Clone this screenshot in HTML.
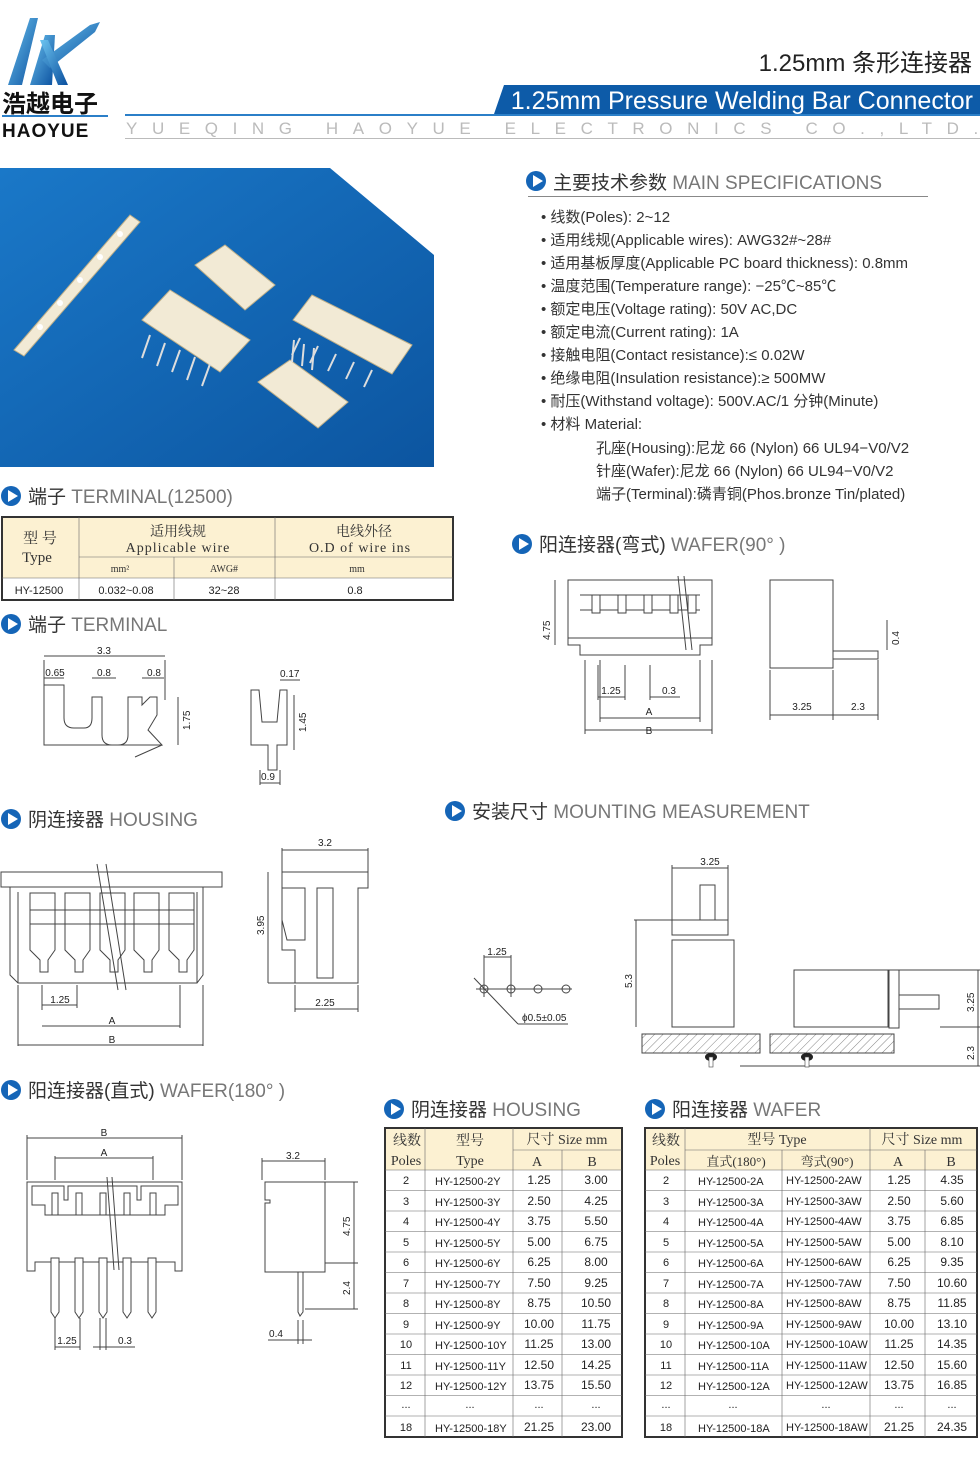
<!DOCTYPE html>
<html><head><meta charset="utf-8"><style>
html,body{margin:0;padding:0;background:#fff}
svg{display:block}
text{font-family:"Liberation Sans","Noto Sans CJK SC",sans-serif;fill:#333}
.s{font-family:"Liberation Serif","Noto Serif CJK SC",serif}
.d{font-size:10px;fill:#222}
.h{font-size:19px;fill:#333}
.hl{fill:#777}
.sp{font-size:15px;fill:#333}
.ln{stroke:#444;stroke-width:1;fill:none}
.lw{stroke:#444;stroke-width:1;fill:#fff}
.th{stroke:#666;stroke-width:.6;fill:none}
.tc{font-size:11px;fill:#222}
</style></head><body>
<svg width="980" height="1470" viewBox="0 0 980 1470" xmlns="http://www.w3.org/2000/svg">
<defs>
<linearGradient id="bg" x1="0" y1="0" x2="1" y2="1"><stop offset="0" stop-color="#1a78c8"/><stop offset="1" stop-color="#0c55a0"/></linearGradient>
<linearGradient id="lg" x1="0" y1="0" x2="1" y2="1"><stop offset="0" stop-color="#6cc4f0"/><stop offset="1" stop-color="#0a4f9e"/></linearGradient>
<pattern id="hatch" width="6" height="6" patternUnits="userSpaceOnUse" patternTransform="rotate(45)"><line x1="0" y1="0" x2="0" y2="6" stroke="#666" stroke-width="0.8"/></pattern>
<g id="ic"><circle cx="0" cy="0" r="10" fill="#1565b7"/><polygon points="-3,-6 7,0 -3,6" fill="#fff"/></g>
</defs>

<!-- logo -->
<polygon points="8,85 30,18 38,18 22,85" fill="url(#lg)"/>
<polygon points="30,85 45,35 55,35 52,85" fill="url(#lg)"/>
<polygon points="42,60 90,25 100,22 95,32 50,68" fill="url(#lg)"/>
<polygon points="40,40 48,40 68,85 58,85" fill="url(#lg)"/>
<text x="2" y="112" style="font-size:24px;font-weight:bold;fill:#111;font-family:'Noto Sans CJK SC',sans-serif">浩越电子</text>
<rect x="2" y="115" width="106" height="2" fill="#2b7fc8"/>
<text x="2" y="137" style="font-size:19px;font-weight:bold;fill:#111;letter-spacing:1px">HAOYUE</text>

<!-- header -->
<text x="972" y="71" text-anchor="end" style="font-size:24px;fill:#222">1.25mm 条形连接器</text>
<polygon points="504,85 980,85 980,114 494,114" fill="#0d5ba8"/>
<text x="973" y="109" text-anchor="end" style="font-size:25px;fill:#fff">1.25mm Pressure Welding Bar Connector</text>
<rect x="125" y="114" width="855" height="2" fill="#2b7fc8"/>
<text x="126" y="134" style="font-size:17px;fill:#bbb;letter-spacing:14.6px">YUEQING HAOYUE ELECTRONICS CO.,LTD.</text>
<rect x="125" y="138" width="855" height="1" fill="#bbb"/>

<!-- photo -->
<polygon points="0,168 330,168 434,255 434,467 0,467" fill="url(#bg)"/>
<g fill="#f2ead5" stroke="#bfb08a" stroke-width="1">
<polygon points="14,350 130,215 140,222 24,356"/>
<polygon points="195,265 225,245 275,285 245,310"/>
<polygon points="142,320 170,290 250,340 220,372"/>
<polygon points="293,320 312,295 412,345 392,374"/>
<polygon points="258,382 290,360 348,402 318,428"/>
</g>
<g stroke="#ddd" stroke-width="2">
<line x1="150" y1="335" x2="142" y2="358"/><line x1="165" y1="343" x2="157" y2="366"/><line x1="180" y1="350" x2="172" y2="372"/><line x1="195" y1="357" x2="187" y2="380"/><line x1="210" y1="364" x2="202" y2="386"/>
<line x1="300" y1="338" x2="292" y2="355"/><line x1="318" y1="346" x2="310" y2="363"/><line x1="336" y1="354" x2="328" y2="371"/><line x1="354" y1="362" x2="346" y2="379"/><line x1="372" y1="370" x2="364" y2="387"/>
<line x1="292" y1="362" x2="294" y2="340"/><line x1="302" y1="366" x2="304" y2="344"/><line x1="312" y1="370" x2="314" y2="348"/>
</g>
<g fill="#fff"><circle cx="40" cy="327" r="3"/><circle cx="60" cy="303" r="3"/><circle cx="80" cy="280" r="3"/><circle cx="100" cy="257" r="3"/><circle cx="120" cy="234" r="3"/></g>

<!-- specs -->
<use href="#ic" x="536" y="181"/>
<text x="553" y="189" class="h">主要技术参数 <tspan class="hl">MAIN SPECIFICATIONS</tspan></text>
<rect x="528" y="196" width="400" height="1" fill="#888"/>
<g class="sp">
<text x="541" y="222" class="sp">• 线数(Poles): 2~12</text>
<text x="541" y="245" class="sp">• 适用线规(Applicable wires): AWG32#~28#</text>
<text x="541" y="268" class="sp">• 适用基板厚度(Applicable PC board thickness): 0.8mm</text>
<text x="541" y="291" class="sp">• 温度范围(Temperature range): −25℃~85℃</text>
<text x="541" y="314" class="sp">• 额定电压(Voltage rating): 50V AC,DC</text>
<text x="541" y="337" class="sp">• 额定电流(Current rating): 1A</text>
<text x="541" y="360" class="sp">• 接触电阻(Contact resistance):≤ 0.02W</text>
<text x="541" y="383" class="sp">• 绝缘电阻(Insulation resistance):≥ 500MW</text>
<text x="541" y="406" class="sp">• 耐压(Withstand voltage): 500V.AC/1 分钟(Minute)</text>
<text x="541" y="429" class="sp">• 材料 Material:</text>
<text x="596" y="453" class="sp">孔座(Housing):尼龙 66 (Nylon) 66 UL94−V0/V2</text>
<text x="596" y="476" class="sp">针座(Wafer):尼龙 66 (Nylon) 66 UL94−V0/V2</text>
<text x="596" y="499" class="sp">端子(Terminal):磷青铜(Phos.bronze Tin/plated)</text>
</g>

<!-- terminal table -->
<use href="#ic" x="11" y="496"/>
<text x="28" y="503" class="h">端子 <tspan class="hl">TERMINAL(12500)</tspan></text>
<rect x="2" y="517" width="77" height="61" fill="#fcf1d2"/>
<rect x="79" y="517" width="374" height="61" fill="#fcf1d2"/>
<rect x="2" y="517" width="451" height="83" fill="none" stroke="#333" stroke-width="2"/>
<g class="th">
<line x1="79" y1="517" x2="79" y2="600"/><line x1="275" y1="517" x2="275" y2="600"/><line x1="174" y1="557" x2="174" y2="600"/>
<line x1="79" y1="557" x2="453" y2="557"/><line x1="2" y1="578" x2="453" y2="578"/>
</g>
<text x="40" y="543" text-anchor="middle" class="s" style="font-size:15px">型 号</text>
<text x="37" y="562" text-anchor="middle" class="s" style="font-size:15px">Type</text>
<text x="178" y="536" text-anchor="middle" class="s" style="font-size:14px">适用线规</text>
<text x="178" y="552" text-anchor="middle" class="s" style="font-size:14px;letter-spacing:1px">Applicable wire</text>
<text x="364" y="536" text-anchor="middle" class="s" style="font-size:14px">电线外径</text>
<text x="360" y="552" text-anchor="middle" class="s" style="font-size:14px;letter-spacing:1px">O.D of wire ins</text>
<text x="120" y="572" text-anchor="middle" class="s" style="font-size:10px">mm²</text>
<text x="224" y="572" text-anchor="middle" class="s" style="font-size:10px">AWG#</text>
<text x="357" y="572" text-anchor="middle" class="s" style="font-size:10px">mm</text>
<text x="39" y="594" text-anchor="middle" class="tc">HY-12500</text>
<text x="126" y="594" text-anchor="middle" class="tc">0.032~0.08</text>
<text x="224" y="594" text-anchor="middle" class="tc">32~28</text>
<text x="355" y="594" text-anchor="middle" class="tc">0.8</text>

<!-- terminal drawing -->
<use href="#ic" x="11" y="624"/>
<text x="28" y="631" class="h">端子 <tspan class="hl">TERMINAL</tspan></text>
<g class="ln">
<path d="M44,685 H64 V718 Q64,728 74,728 H84 Q92,728 92,718 V697 H102 V735 Q102,745 112,745 H118 Q128,745 128,735 V697 H142 V705 L150,697 H157 V715 L148,730 L162,745 H44 Z" fill="#fff"/>
<line x1="135" y1="757" x2="162" y2="745"/>
<line x1="44" y1="660" x2="44" y2="685"/><line x1="165" y1="660" x2="165" y2="700"/>
<line x1="44" y1="656" x2="165" y2="656"/>
<line x1="44" y1="678" x2="64" y2="678"/><line x1="92" y1="678" x2="116" y2="678"/><line x1="142" y1="678" x2="164" y2="678"/>
<line x1="178" y1="697" x2="178" y2="745"/>
<path d="M251,690 V745 H268 V770 H277 V745 H287 V690 L280,690 L277,722 H262 L259,690 Z" fill="#fff"/>
<line x1="260" y1="783" x2="280" y2="783"/><line x1="260" y1="770" x2="260" y2="785"/><line x1="280" y1="770" x2="280" y2="785"/>
<line x1="280" y1="680" x2="300" y2="680"/><line x1="294" y1="695" x2="294" y2="750"/>
</g>
<text x="104" y="654" text-anchor="middle" class="d">3.3</text>
<text x="55" y="676" text-anchor="middle" class="d">0.65</text>
<text x="104" y="676" text-anchor="middle" class="d">0.8</text>
<text x="154" y="676" text-anchor="middle" class="d">0.8</text>
<text transform="translate(190,730) rotate(-90)" class="d">1.75</text>
<text x="280" y="677" class="d">0.17</text>
<text transform="translate(306,732) rotate(-90)" class="d">1.45</text>
<text x="268" y="780" text-anchor="middle" class="d">0.9</text>

<!-- wafer 90 -->
<use href="#ic" x="522" y="544"/>
<text x="539" y="551" class="h">阳连接器(弯式) <tspan class="hl">WAFER(90°  )</tspan></text>
<g class="ln">
<path d="M568,580 H712 V645 H700 V655 H580 V645 H568 Z" fill="#fff"/>
<line x1="580" y1="595" x2="700" y2="595"/>
<line x1="580" y1="610" x2="700" y2="610"/>
<rect x="592" y="595" width="8" height="18" fill="#fff"/><rect x="618" y="595" width="8" height="18" fill="#fff"/><rect x="644" y="595" width="8" height="18" fill="#fff"/><rect x="670" y="595" width="8" height="18" fill="#fff"/><rect x="688" y="595" width="8" height="18" fill="#fff"/>
<line x1="568" y1="638" x2="712" y2="638"/>
<line x1="555" y1="580" x2="555" y2="645"/>
<line x1="598" y1="665" x2="598" y2="700"/><line x1="625" y1="665" x2="625" y2="700"/><line x1="650" y1="665" x2="650" y2="700"/>
<line x1="598" y1="697" x2="625" y2="697"/><line x1="650" y1="697" x2="680" y2="697"/>
<line x1="600" y1="718" x2="700" y2="718"/><line x1="585" y1="730" x2="712" y2="730"/>
<line x1="600" y1="660" x2="600" y2="722"/><line x1="700" y1="660" x2="700" y2="722"/><line x1="585" y1="660" x2="585" y2="734"/><line x1="712" y1="660" x2="712" y2="734"/>
<line x1="678" y1="576" x2="686" y2="650"/><line x1="684" y1="576" x2="692" y2="650"/>
<path d="M770,580 H833 V668 H770 Z" fill="#fff"/>
<rect x="833" y="651" width="45" height="8" fill="#fff"/>
<line x1="770" y1="715" x2="833" y2="715"/><line x1="833" y1="715" x2="878" y2="715"/>
<line x1="770" y1="670" x2="770" y2="720"/><line x1="833" y1="670" x2="833" y2="720"/><line x1="878" y1="660" x2="878" y2="720"/>
<line x1="887" y1="620" x2="887" y2="650"/>
</g>
<text transform="translate(550,640) rotate(-90)" class="d">4.75</text>
<text x="611" y="694" text-anchor="middle" class="d">1.25</text>
<text x="669" y="694" text-anchor="middle" class="d">0.3</text>
<text x="649" y="715" text-anchor="middle" class="d">A</text>
<text x="649" y="734" text-anchor="middle" class="d">B</text>
<text x="802" y="710" text-anchor="middle" class="d">3.25</text>
<text x="858" y="710" text-anchor="middle" class="d">2.3</text>
<text transform="translate(899,645) rotate(-90)" class="d">0.4</text>

<!-- housing drawing -->
<use href="#ic" x="11" y="819"/>
<text x="28" y="826" class="h">阴连接器 <tspan class="hl">HOUSING</tspan></text>
<g class="ln">
<rect x="1" y="872" width="221" height="15" fill="#fff"/>
<path d="M10,887 H203 V975 L197,983 V983 H18 V983 L10,975 Z" fill="#fff"/>
<line x1="18" y1="892" x2="18" y2="983"/><line x1="197" y1="892" x2="197" y2="983"/>
<g fill="#fff">
<path d="M30,893 H55 V950 L48,960 V972 H40 V960 L30,950 Z"/>
<path d="M65,893 H90 V950 L83,960 V972 H75 V960 L65,950 Z"/>
<path d="M100,893 H125 V950 L118,960 V972 H110 V960 L100,950 Z"/>
<path d="M134,893 H159 V950 L152,960 V972 H144 V960 L134,950 Z"/>
<path d="M169,893 H194 V950 L187,960 V972 H179 V960 L169,950 Z"/>
</g>
<line x1="30" y1="910" x2="194" y2="910"/><line x1="30" y1="924" x2="194" y2="924"/>
<line x1="97" y1="864" x2="118" y2="990"/><line x1="106" y1="864" x2="126" y2="990"/>
<line x1="18" y1="985" x2="18" y2="1046"/><line x1="203" y1="985" x2="203" y2="1046"/>
<line x1="42" y1="985" x2="42" y2="1010"/><line x1="77" y1="985" x2="77" y2="1008"/><line x1="180" y1="985" x2="180" y2="1028"/>
<line x1="42" y1="1005" x2="77" y2="1005"/><line x1="42" y1="1026" x2="180" y2="1026"/><line x1="18" y1="1045" x2="203" y2="1045"/>
<path d="M282,872 H368 V888 H358 V983 H295 V950 L282,950 Z" fill="#fff"/>
<path d="M282,888 H305 V940 L287,940 L282,920 Z" fill="#fff"/>
<rect x="317" y="888" width="16" height="90" fill="#fff"/>
<line x1="282" y1="850" x2="368" y2="850"/><line x1="282" y1="848" x2="282" y2="872"/><line x1="368" y1="848" x2="368" y2="872"/>
<line x1="268" y1="872" x2="268" y2="983"/><line x1="268" y1="983" x2="295" y2="983"/>
<line x1="295" y1="1009" x2="358" y2="1009"/><line x1="295" y1="985" x2="295" y2="1012"/><line x1="358" y1="985" x2="358" y2="1012"/>
</g>
<text x="60" y="1003" text-anchor="middle" class="d">1.25</text>
<text x="112" y="1024" text-anchor="middle" class="d">A</text>
<text x="112" y="1043" text-anchor="middle" class="d">B</text>
<text x="325" y="846" text-anchor="middle" class="d">3.2</text>
<text transform="translate(264,935) rotate(-90)" class="d">3.95</text>
<text x="325" y="1006" text-anchor="middle" class="d">2.25</text>

<!-- mounting -->
<use href="#ic" x="455" y="811"/>
<text x="472" y="818" class="h">安装尺寸 <tspan class="hl">MOUNTING MEASUREMENT</tspan></text>
<g class="ln">
<circle cx="484" cy="989" r="4"/><circle cx="511" cy="989" r="4"/><circle cx="538" cy="989" r="4"/><circle cx="566" cy="989" r="4"/>
<line x1="476" y1="989" x2="572" y2="989"/>
<line x1="484" y1="955" x2="484" y2="997"/><line x1="511" y1="955" x2="511" y2="997"/>
<line x1="484" y1="957" x2="511" y2="957"/>
<line x1="474" y1="978" x2="518" y2="1024"/><line x1="518" y1="1024" x2="568" y2="1024"/>
<rect x="672" y="940" width="62" height="87" fill="#fff"/>
<rect x="672" y="920" width="56" height="15" fill="#fff"/>
<rect x="700" y="885" width="15" height="35" fill="#fff"/>
<line x1="672" y1="868" x2="728" y2="868"/><line x1="672" y1="865" x2="672" y2="920"/><line x1="728" y1="865" x2="728" y2="920"/>
<line x1="634" y1="920" x2="672" y2="920"/><line x1="636" y1="920" x2="636" y2="1027"/>
<rect x="794" y="970" width="94" height="57" fill="#fff"/>
<rect x="889" y="970" width="10" height="58" fill="#fff"/>
<rect x="899" y="995" width="40" height="14" fill="#fff"/>
<line x1="899" y1="970" x2="980" y2="970"/><line x1="978" y1="970" x2="978" y2="1066"/>
<line x1="940" y1="1027" x2="980" y2="1027"/><line x1="740" y1="1066" x2="980" y2="1066"/>
</g>
<rect x="642" y="1034" width="118" height="19" fill="url(#hatch)" stroke="#444"/>
<rect x="770" y="1034" width="124" height="19" fill="url(#hatch)" stroke="#444"/>
<ellipse cx="711" cy="1057" rx="6" ry="4" fill="#222"/><rect x="709" y="1057" width="4" height="10" fill="#fff" stroke="#444" stroke-width=".6"/>
<ellipse cx="807" cy="1057" rx="6" ry="4" fill="#222"/><rect x="805" y="1057" width="4" height="10" fill="#fff" stroke="#444" stroke-width=".6"/>
<text x="497" y="955" text-anchor="middle" class="d">1.25</text>
<text x="522" y="1021" class="d">ϕ0.5±0.05</text>
<text x="710" y="865" text-anchor="middle" class="d">3.25</text>
<text transform="translate(632,988) rotate(-90)" class="d">5.3</text>
<text transform="translate(974,1012) rotate(-90)" class="d">3.25</text>
<text transform="translate(974,1060) rotate(-90)" class="d">2.3</text>

<!-- wafer 180 -->
<use href="#ic" x="11" y="1090"/>
<text x="28" y="1097" class="h">阳连接器(直式) <tspan class="hl">WAFER(180°  )</tspan></text>
<g class="ln">
<line x1="27" y1="1138" x2="182" y2="1138"/><line x1="27" y1="1135" x2="27" y2="1180"/><line x1="182" y1="1135" x2="182" y2="1180"/>
<line x1="55" y1="1158" x2="153" y2="1158"/><line x1="55" y1="1156" x2="55" y2="1180"/><line x1="153" y1="1156" x2="153" y2="1180"/>
<path d="M27,1182 H182 V1271 H175 V1262 H35 V1271 H27 Z" fill="#fff"/>
<path d="M32,1186 H64 V1200 H68 V1186 H137 V1200 H141 V1186 H178 V1205 H165 V1215 H45 V1205 H32 Z" fill="#fff"/>
<g fill="#fff">
<rect x="52" y="1193" width="6" height="22"/><rect x="76" y="1193" width="6" height="22"/><rect x="100" y="1193" width="6" height="22"/><rect x="124" y="1193" width="6" height="22"/><rect x="150" y="1193" width="6" height="22"/>
<path d="M51,1258 H59 V1312 L55,1318 L51,1312 Z"/><path d="M75,1258 H83 V1312 L79,1318 L75,1312 Z"/><path d="M99,1258 H107 V1312 L103,1318 L99,1312 Z"/><path d="M123,1258 H131 V1312 L127,1318 L123,1312 Z"/><path d="M148,1258 H156 V1312 L152,1318 L148,1312 Z"/>
</g>
<line x1="107" y1="1177" x2="114" y2="1270"/><line x1="112" y1="1177" x2="119" y2="1270"/>
<line x1="55" y1="1318" x2="55" y2="1350"/><line x1="80" y1="1318" x2="80" y2="1350"/><line x1="55" y1="1347" x2="80" y2="1347"/>
<line x1="100" y1="1318" x2="100" y2="1350"/><line x1="106" y1="1318" x2="106" y2="1350"/><line x1="93" y1="1347" x2="135" y2="1347"/>
<path d="M265,1182 H325 V1272 H265 V1203 H270 V1200 H265 Z" fill="#fff"/>
<path d="M298,1272 H303 V1312 L300,1316 L298,1312 Z" fill="#fff"/>
<line x1="262" y1="1161" x2="325" y2="1161"/><line x1="262" y1="1158" x2="262" y2="1180"/><line x1="325" y1="1158" x2="325" y2="1180"/>
<line x1="325" y1="1182" x2="358" y2="1182"/><line x1="325" y1="1263" x2="358" y2="1263"/><line x1="305" y1="1309" x2="358" y2="1309"/>
<line x1="354" y1="1182" x2="354" y2="1309"/>
<line x1="268" y1="1340" x2="312" y2="1340"/><line x1="298" y1="1320" x2="298" y2="1344"/><line x1="303" y1="1320" x2="303" y2="1344"/>
</g>
<text x="104" y="1136" text-anchor="middle" class="d">B</text>
<text x="104" y="1156" text-anchor="middle" class="d">A</text>
<text x="67" y="1344" text-anchor="middle" class="d">1.25</text>
<text x="125" y="1344" text-anchor="middle" class="d">0.3</text>
<text x="293" y="1159" text-anchor="middle" class="d">3.2</text>
<text transform="translate(350,1236) rotate(-90)" class="d">4.75</text>
<text transform="translate(350,1295) rotate(-90)" class="d">2.4</text>
<text x="276" y="1337" text-anchor="middle" class="d">0.4</text>

<!-- housing table -->
<use href="#ic" x="394" y="1109"/>
<text x="411" y="1116" class="h">阴连接器 <tspan class="hl">HOUSING</tspan></text>
<rect x="385" y="1128" width="237" height="42" fill="#fcf1d2"/>
<rect x="385" y="1128" width="237" height="309" fill="none" stroke="#333" stroke-width="2"/>
<g class="th">
<line x1="425" y1="1128" x2="425" y2="1437"/><line x1="513" y1="1128" x2="513" y2="1437"/><line x1="562" y1="1150" x2="562" y2="1437"/>
<line x1="513" y1="1150" x2="622" y2="1150"/>
<line x1="385" y1="1170" x2="622" y2="1170"/><line x1="385" y1="1190.5" x2="622" y2="1190.5"/><line x1="385" y1="1211" x2="622" y2="1211"/><line x1="385" y1="1231.5" x2="622" y2="1231.5"/><line x1="385" y1="1252" x2="622" y2="1252"/><line x1="385" y1="1272.5" x2="622" y2="1272.5"/><line x1="385" y1="1293" x2="622" y2="1293"/><line x1="385" y1="1313.5" x2="622" y2="1313.5"/><line x1="385" y1="1334" x2="622" y2="1334"/><line x1="385" y1="1354.5" x2="622" y2="1354.5"/><line x1="385" y1="1375" x2="622" y2="1375"/><line x1="385" y1="1395.5" x2="622" y2="1395.5"/><line x1="385" y1="1416" x2="622" y2="1416"/>
</g>
<text x="407" y="1145" text-anchor="middle" class="s" style="font-size:14px">线数</text>
<text x="406" y="1165" text-anchor="middle" class="s" style="font-size:14px">Poles</text>
<text x="470" y="1145" text-anchor="middle" class="s" style="font-size:14px">型号</text>
<text x="470" y="1165" text-anchor="middle" class="s" style="font-size:14px">Type</text>
<text x="567" y="1144" text-anchor="middle" class="s" style="font-size:14px">尺寸 Size mm</text>
<text x="537" y="1166" text-anchor="middle" class="s" style="font-size:14px">A</text>
<text x="592" y="1166" text-anchor="middle" class="s" style="font-size:14px">B</text>
<g>
<text x="406" y="1184" text-anchor="middle" class="tc">2</text><text x="435" y="1185" class="tc">HY-12500-2Y</text><text x="539" y="1184" text-anchor="middle" class="tc" style="font-size:12px">1.25</text><text x="596" y="1184" text-anchor="middle" class="tc" style="font-size:12px">3.00</text>
<text x="406" y="1205" text-anchor="middle" class="tc">3</text><text x="435" y="1206" class="tc">HY-12500-3Y</text><text x="539" y="1205" text-anchor="middle" class="tc" style="font-size:12px">2.50</text><text x="596" y="1205" text-anchor="middle" class="tc" style="font-size:12px">4.25</text>
<text x="406" y="1225" text-anchor="middle" class="tc">4</text><text x="435" y="1226" class="tc">HY-12500-4Y</text><text x="539" y="1225" text-anchor="middle" class="tc" style="font-size:12px">3.75</text><text x="596" y="1225" text-anchor="middle" class="tc" style="font-size:12px">5.50</text>
<text x="406" y="1246" text-anchor="middle" class="tc">5</text><text x="435" y="1247" class="tc">HY-12500-5Y</text><text x="539" y="1246" text-anchor="middle" class="tc" style="font-size:12px">5.00</text><text x="596" y="1246" text-anchor="middle" class="tc" style="font-size:12px">6.75</text>
<text x="406" y="1266" text-anchor="middle" class="tc">6</text><text x="435" y="1267" class="tc">HY-12500-6Y</text><text x="539" y="1266" text-anchor="middle" class="tc" style="font-size:12px">6.25</text><text x="596" y="1266" text-anchor="middle" class="tc" style="font-size:12px">8.00</text>
<text x="406" y="1287" text-anchor="middle" class="tc">7</text><text x="435" y="1288" class="tc">HY-12500-7Y</text><text x="539" y="1287" text-anchor="middle" class="tc" style="font-size:12px">7.50</text><text x="596" y="1287" text-anchor="middle" class="tc" style="font-size:12px">9.25</text>
<text x="406" y="1307" text-anchor="middle" class="tc">8</text><text x="435" y="1308" class="tc">HY-12500-8Y</text><text x="539" y="1307" text-anchor="middle" class="tc" style="font-size:12px">8.75</text><text x="596" y="1307" text-anchor="middle" class="tc" style="font-size:12px">10.50</text>
<text x="406" y="1328" text-anchor="middle" class="tc">9</text><text x="435" y="1329" class="tc">HY-12500-9Y</text><text x="539" y="1328" text-anchor="middle" class="tc" style="font-size:12px">10.00</text><text x="596" y="1328" text-anchor="middle" class="tc" style="font-size:12px">11.75</text>
<text x="406" y="1348" text-anchor="middle" class="tc">10</text><text x="435" y="1349" class="tc">HY-12500-10Y</text><text x="539" y="1348" text-anchor="middle" class="tc" style="font-size:12px">11.25</text><text x="596" y="1348" text-anchor="middle" class="tc" style="font-size:12px">13.00</text>
<text x="406" y="1369" text-anchor="middle" class="tc">11</text><text x="435" y="1370" class="tc">HY-12500-11Y</text><text x="539" y="1369" text-anchor="middle" class="tc" style="font-size:12px">12.50</text><text x="596" y="1369" text-anchor="middle" class="tc" style="font-size:12px">14.25</text>
<text x="406" y="1389" text-anchor="middle" class="tc">12</text><text x="435" y="1390" class="tc">HY-12500-12Y</text><text x="539" y="1389" text-anchor="middle" class="tc" style="font-size:12px">13.75</text><text x="596" y="1389" text-anchor="middle" class="tc" style="font-size:12px">15.50</text>
<text x="406" y="1408" text-anchor="middle" class="tc">...</text><text x="470" y="1408" text-anchor="middle" class="tc">...</text><text x="539" y="1408" text-anchor="middle" class="tc">...</text><text x="596" y="1408" text-anchor="middle" class="tc">...</text>
<text x="406" y="1431" text-anchor="middle" class="tc">18</text><text x="435" y="1432" class="tc">HY-12500-18Y</text><text x="539" y="1431" text-anchor="middle" class="tc" style="font-size:12px">21.25</text><text x="596" y="1431" text-anchor="middle" class="tc" style="font-size:12px">23.00</text>
</g>

<!-- wafer table -->
<use href="#ic" x="655" y="1109"/>
<text x="672" y="1116" class="h">阳连接器 <tspan class="hl">WAFER</tspan></text>
<rect x="645" y="1128" width="332" height="42" fill="#fcf1d2"/>
<rect x="645" y="1128" width="332" height="309" fill="none" stroke="#333" stroke-width="2"/>
<g class="th">
<line x1="685" y1="1128" x2="685" y2="1437"/><line x1="782" y1="1150" x2="782" y2="1437"/><line x1="870" y1="1128" x2="870" y2="1437"/><line x1="925" y1="1150" x2="925" y2="1437"/>
<line x1="685" y1="1150" x2="977" y2="1150"/>
<line x1="645" y1="1170" x2="977" y2="1170"/><line x1="645" y1="1190.5" x2="977" y2="1190.5"/><line x1="645" y1="1211" x2="977" y2="1211"/><line x1="645" y1="1231.5" x2="977" y2="1231.5"/><line x1="645" y1="1252" x2="977" y2="1252"/><line x1="645" y1="1272.5" x2="977" y2="1272.5"/><line x1="645" y1="1293" x2="977" y2="1293"/><line x1="645" y1="1313.5" x2="977" y2="1313.5"/><line x1="645" y1="1334" x2="977" y2="1334"/><line x1="645" y1="1354.5" x2="977" y2="1354.5"/><line x1="645" y1="1375" x2="977" y2="1375"/><line x1="645" y1="1395.5" x2="977" y2="1395.5"/><line x1="645" y1="1416" x2="977" y2="1416"/>
</g>
<text x="666" y="1145" text-anchor="middle" class="s" style="font-size:14px">线数</text>
<text x="665" y="1165" text-anchor="middle" class="s" style="font-size:14px">Poles</text>
<text x="777" y="1144" text-anchor="middle" class="s" style="font-size:14px">型号 Type</text>
<text x="736" y="1166" text-anchor="middle" class="s" style="font-size:13px">直式(180°)</text>
<text x="827" y="1166" text-anchor="middle" class="s" style="font-size:13px">弯式(90°)</text>
<text x="922" y="1144" text-anchor="middle" class="s" style="font-size:14px">尺寸 Size mm</text>
<text x="898" y="1166" text-anchor="middle" class="s" style="font-size:14px">A</text>
<text x="951" y="1166" text-anchor="middle" class="s" style="font-size:14px">B</text>
<g>
<text x="666" y="1184" text-anchor="middle" class="tc">2</text><text x="698" y="1185" class="tc">HY-12500-2A</text><text x="786" y="1184" class="tc">HY-12500-2AW</text><text x="899" y="1184" text-anchor="middle" class="tc" style="font-size:12px">1.25</text><text x="952" y="1184" text-anchor="middle" class="tc" style="font-size:12px">4.35</text>
<text x="666" y="1205" text-anchor="middle" class="tc">3</text><text x="698" y="1206" class="tc">HY-12500-3A</text><text x="786" y="1205" class="tc">HY-12500-3AW</text><text x="899" y="1205" text-anchor="middle" class="tc" style="font-size:12px">2.50</text><text x="952" y="1205" text-anchor="middle" class="tc" style="font-size:12px">5.60</text>
<text x="666" y="1225" text-anchor="middle" class="tc">4</text><text x="698" y="1226" class="tc">HY-12500-4A</text><text x="786" y="1225" class="tc">HY-12500-4AW</text><text x="899" y="1225" text-anchor="middle" class="tc" style="font-size:12px">3.75</text><text x="952" y="1225" text-anchor="middle" class="tc" style="font-size:12px">6.85</text>
<text x="666" y="1246" text-anchor="middle" class="tc">5</text><text x="698" y="1247" class="tc">HY-12500-5A</text><text x="786" y="1246" class="tc">HY-12500-5AW</text><text x="899" y="1246" text-anchor="middle" class="tc" style="font-size:12px">5.00</text><text x="952" y="1246" text-anchor="middle" class="tc" style="font-size:12px">8.10</text>
<text x="666" y="1266" text-anchor="middle" class="tc">6</text><text x="698" y="1267" class="tc">HY-12500-6A</text><text x="786" y="1266" class="tc">HY-12500-6AW</text><text x="899" y="1266" text-anchor="middle" class="tc" style="font-size:12px">6.25</text><text x="952" y="1266" text-anchor="middle" class="tc" style="font-size:12px">9.35</text>
<text x="666" y="1287" text-anchor="middle" class="tc">7</text><text x="698" y="1288" class="tc">HY-12500-7A</text><text x="786" y="1287" class="tc">HY-12500-7AW</text><text x="899" y="1287" text-anchor="middle" class="tc" style="font-size:12px">7.50</text><text x="952" y="1287" text-anchor="middle" class="tc" style="font-size:12px">10.60</text>
<text x="666" y="1307" text-anchor="middle" class="tc">8</text><text x="698" y="1308" class="tc">HY-12500-8A</text><text x="786" y="1307" class="tc">HY-12500-8AW</text><text x="899" y="1307" text-anchor="middle" class="tc" style="font-size:12px">8.75</text><text x="952" y="1307" text-anchor="middle" class="tc" style="font-size:12px">11.85</text>
<text x="666" y="1328" text-anchor="middle" class="tc">9</text><text x="698" y="1329" class="tc">HY-12500-9A</text><text x="786" y="1328" class="tc">HY-12500-9AW</text><text x="899" y="1328" text-anchor="middle" class="tc" style="font-size:12px">10.00</text><text x="952" y="1328" text-anchor="middle" class="tc" style="font-size:12px">13.10</text>
<text x="666" y="1348" text-anchor="middle" class="tc">10</text><text x="698" y="1349" class="tc">HY-12500-10A</text><text x="786" y="1348" class="tc">HY-12500-10AW</text><text x="899" y="1348" text-anchor="middle" class="tc" style="font-size:12px">11.25</text><text x="952" y="1348" text-anchor="middle" class="tc" style="font-size:12px">14.35</text>
<text x="666" y="1369" text-anchor="middle" class="tc">11</text><text x="698" y="1370" class="tc">HY-12500-11A</text><text x="786" y="1369" class="tc">HY-12500-11AW</text><text x="899" y="1369" text-anchor="middle" class="tc" style="font-size:12px">12.50</text><text x="952" y="1369" text-anchor="middle" class="tc" style="font-size:12px">15.60</text>
<text x="666" y="1389" text-anchor="middle" class="tc">12</text><text x="698" y="1390" class="tc">HY-12500-12A</text><text x="786" y="1389" class="tc">HY-12500-12AW</text><text x="899" y="1389" text-anchor="middle" class="tc" style="font-size:12px">13.75</text><text x="952" y="1389" text-anchor="middle" class="tc" style="font-size:12px">16.85</text>
<text x="666" y="1408" text-anchor="middle" class="tc">...</text><text x="733" y="1408" text-anchor="middle" class="tc">...</text><text x="826" y="1408" text-anchor="middle" class="tc">...</text><text x="899" y="1408" text-anchor="middle" class="tc">...</text><text x="952" y="1408" text-anchor="middle" class="tc">...</text>
<text x="666" y="1431" text-anchor="middle" class="tc">18</text><text x="698" y="1432" class="tc">HY-12500-18A</text><text x="786" y="1431" class="tc">HY-12500-18AW</text><text x="899" y="1431" text-anchor="middle" class="tc" style="font-size:12px">21.25</text><text x="952" y="1431" text-anchor="middle" class="tc" style="font-size:12px">24.35</text>
</g>
</svg>
</body></html>
